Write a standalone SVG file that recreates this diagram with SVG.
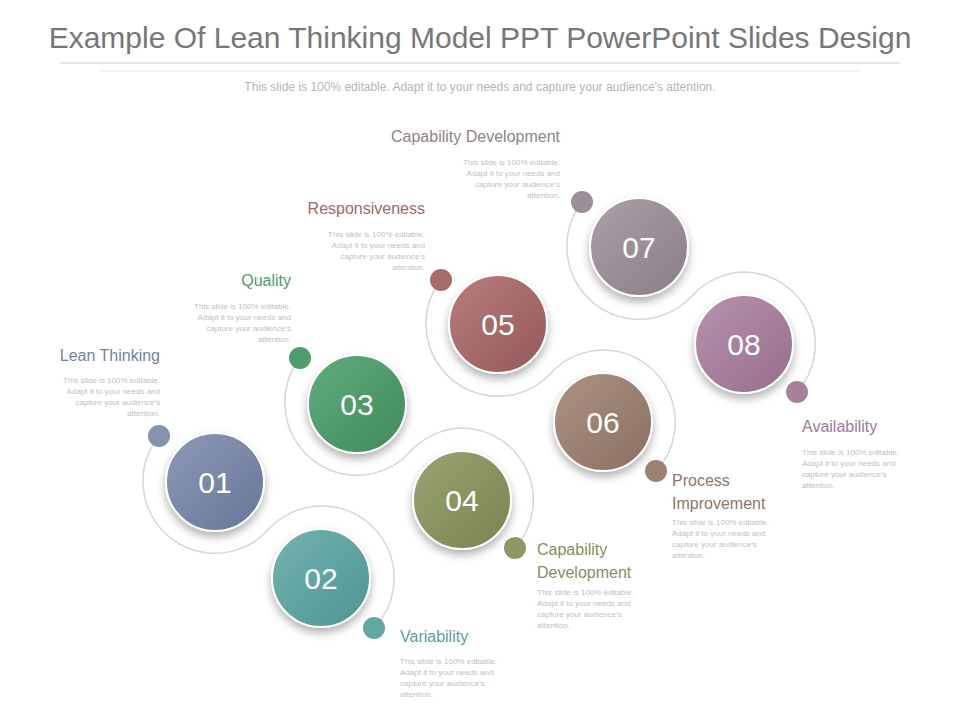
<svg xmlns="http://www.w3.org/2000/svg" width="960" height="720" viewBox="0 0 960 720">
<style>
text{font-family:"Liberation Sans",Arial,sans-serif}
.t{font-size:30px;fill:#777}
.s{font-size:12px;fill:#b5b5b5}
.l{font-size:16px}
.b{font-size:8px;fill:#c0c0c0}
.r{text-anchor:end}
.n{font-size:30px;fill:#fff;text-anchor:middle}
.ring{fill:none;stroke:#d6d6d6;stroke-width:1.5}
.c{stroke:#fff;stroke-width:2;filter:url(#sh)}
</style>
<defs>
<filter id="sh" x="-30%" y="-30%" width="160%" height="170%"><feDropShadow dx="0" dy="5" stdDeviation="4" flood-color="#000" flood-opacity="0.3"/></filter>
<linearGradient id="g1" x1="0" y1="0" x2="1" y2="1"><stop offset="0" stop-color="#8c99b5"/><stop offset="1" stop-color="#66769a"/></linearGradient>
<linearGradient id="g2" x1="0" y1="0" x2="1" y2="1"><stop offset="0" stop-color="#74b3b0"/><stop offset="1" stop-color="#4d9592"/></linearGradient>
<linearGradient id="g3" x1="0" y1="0" x2="1" y2="1"><stop offset="0" stop-color="#62ab7d"/><stop offset="1" stop-color="#3f8a5c"/></linearGradient>
<linearGradient id="g4" x1="0" y1="0" x2="1" y2="1"><stop offset="0" stop-color="#9aa473"/><stop offset="1" stop-color="#788350"/></linearGradient>
<linearGradient id="g5" x1="0" y1="0" x2="1" y2="1"><stop offset="0" stop-color="#b87c7c"/><stop offset="1" stop-color="#955858"/></linearGradient>
<linearGradient id="g6" x1="0" y1="0" x2="1" y2="1"><stop offset="0" stop-color="#ad9383"/><stop offset="1" stop-color="#8a6e60"/></linearGradient>
<linearGradient id="g7" x1="0" y1="0" x2="1" y2="1"><stop offset="0" stop-color="#aca0a8"/><stop offset="1" stop-color="#8a7d86"/></linearGradient>
<linearGradient id="g8" x1="0" y1="0" x2="1" y2="1"><stop offset="0" stop-color="#b892ae"/><stop offset="1" stop-color="#966d8c"/></linearGradient>
</defs>
<rect width="960" height="720" fill="#fff"/>
<text class="t" x="480" y="48" text-anchor="middle">Example Of Lean Thinking Model PPT PowerPoint Slides Design</text>
<line x1="60" y1="63" x2="900" y2="63" stroke="#d0d0d0"/>
<line x1="100" y1="71" x2="860" y2="71" stroke="#e4e4e4"/>
<text class="s" x="480" y="91" text-anchor="middle">This slide is 100% editable. Adapt it to your needs and capture your audience's attention.</text>
<g id="connectors">
<path class="ring" d="M159,436 A72,72 0 0 0 143,482 A72,72 0 0 0 268,530 A72,72 0 0 1 321,506 A72,72 0 0 1 374,628"/>
<path class="ring" d="M300,358 A72,72 0 0 0 285,404 A72,72 0 0 0 410,452 A72,72 0 0 1 462,428 A72,72 0 0 1 515,548"/>
<path class="ring" d="M441,280 A72,72 0 0 0 426,324 A72,72 0 0 0 551,373 A72,72 0 0 1 603,350 A72,72 0 0 1 656,471"/>
<path class="ring" d="M582,202 A72,72 0 0 0 567,247 A72,72 0 0 0 692,296 A72,72 0 0 1 744,272 A72,72 0 0 1 797,392"/>
</g>
<g id="n01"><circle cx="159" cy="436" r="11" fill="#8592b0"/><circle class="c" cx="215" cy="482" r="49" fill="url(#g1)"/><text class="n" x="215" y="493">01</text>
<text class="l r" x="160" y="361" fill="#7482a3">Lean Thinking</text>
<text class="b r" x="160" y="383">This slide is 100% editable.</text><text class="b r" x="160" y="394">Adapt it to your needs and</text><text class="b r" x="160" y="405">capture your audience's</text><text class="b r" x="160" y="416">attention.</text></g>
<g id="n02"><circle cx="374" cy="628" r="11" fill="#62a7a4"/><circle class="c" cx="321" cy="578" r="49" fill="url(#g2)"/><text class="n" x="321" y="589">02</text>
<text class="l" x="400" y="642" fill="#5c9d9a">Variability</text>
<text class="b" x="400" y="664">This slide is 100% editable.</text><text class="b" x="400" y="675">Adapt it to your needs and</text><text class="b" x="400" y="686">capture your audience's</text><text class="b" x="400" y="697">attention.</text></g>
<g id="n03"><circle cx="300" cy="358" r="11" fill="#4f9c6c"/><circle class="c" cx="357" cy="404" r="49" fill="url(#g3)"/><text class="n" x="357" y="415">03</text>
<text class="l r" x="291" y="286" fill="#4f9a6c">Quality</text>
<text class="b r" x="291" y="309">This slide is 100% editable.</text><text class="b r" x="291" y="320">Adapt it to your needs and</text><text class="b r" x="291" y="331">capture your audience's</text><text class="b r" x="291" y="342">attention.</text></g>
<g id="n04"><circle cx="515" cy="548" r="11" fill="#8e9866"/><circle class="c" cx="462" cy="500" r="49" fill="url(#g4)"/><text class="n" x="462" y="511">04</text>
<text class="l" x="537" y="555" fill="#858f5c">Capability</text><text class="l" x="537" y="578" fill="#858f5c">Development</text>
<text class="b" x="537" y="595">This slide is 100% editable.</text><text class="b" x="537" y="606">Adapt it to your needs and</text><text class="b" x="537" y="617">capture your audience's</text><text class="b" x="537" y="628">attention.</text></g>
<g id="n05"><circle cx="441" cy="280" r="11" fill="#a86b6b"/><circle class="c" cx="498" cy="324" r="49" fill="url(#g5)"/><text class="n" x="498" y="335">05</text>
<text class="l r" x="425" y="214" fill="#a56767">Responsiveness</text>
<text class="b r" x="425" y="237">This slide is 100% editable.</text><text class="b r" x="425" y="248">Adapt it to your needs and</text><text class="b r" x="425" y="259">capture your audience's</text><text class="b r" x="425" y="270">attention.</text></g>
<g id="n06"><circle cx="656" cy="471" r="11" fill="#9c8172"/><circle class="c" cx="603" cy="422" r="49" fill="url(#g6)"/><text class="n" x="603" y="433">06</text>
<text class="l" x="672" y="486" fill="#8f7668">Process</text><text class="l" x="672" y="509" fill="#8f7668">Improvement</text>
<text class="b" x="672" y="525">This slide is 100% editable.</text><text class="b" x="672" y="536">Adapt it to your needs and</text><text class="b" x="672" y="547">capture your audience's</text><text class="b" x="672" y="558">attention.</text></g>
<g id="n07"><circle cx="582" cy="202" r="11" fill="#9c8f98"/><circle class="c" cx="639" cy="247" r="49" fill="url(#g7)"/><text class="n" x="639" y="258">07</text>
<text class="l r" x="560" y="142" fill="#8f8289">Capability Development</text>
<text class="b r" x="560" y="165">This slide is 100% editable.</text><text class="b r" x="560" y="176">Adapt it to your needs and</text><text class="b r" x="560" y="187">capture your audience's</text><text class="b r" x="560" y="198">attention.</text></g>
<g id="n08"><circle cx="797" cy="392" r="11" fill="#a8809e"/><circle class="c" cx="744" cy="344" r="49" fill="url(#g8)"/><text class="n" x="744" y="355">08</text>
<text class="l" x="802" y="432" fill="#a07a97">Availability</text>
<text class="b" x="802" y="455">This slide is 100% editable.</text><text class="b" x="802" y="466">Adapt it to your needs and</text><text class="b" x="802" y="477">capture your audience's</text><text class="b" x="802" y="488">attention.</text></g>
</svg>
